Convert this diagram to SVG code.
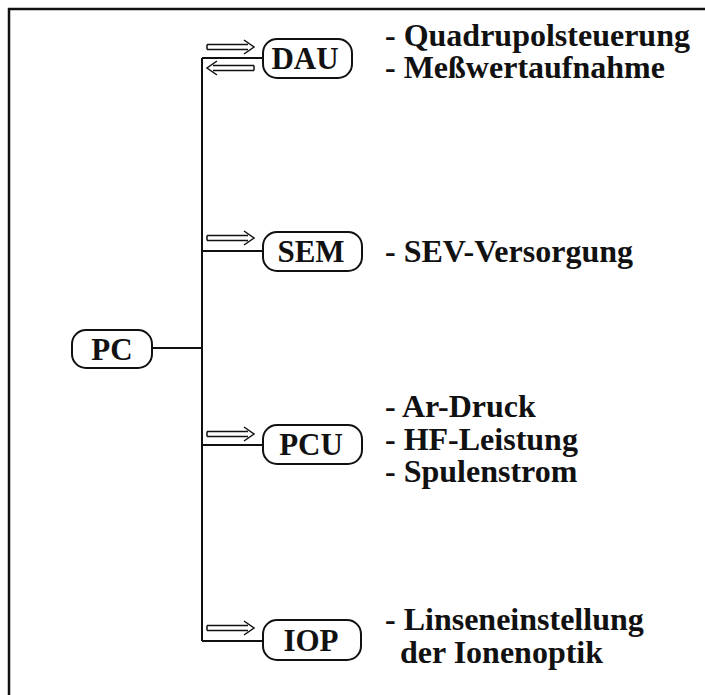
<svg xmlns="http://www.w3.org/2000/svg" width="705" height="695" viewBox="0 0 705 695">
  <style>
    .frame { fill: none; stroke: #111; stroke-width: 2.5; }
    .box { fill: #fff; stroke: #111; stroke-width: 2; }
    .wire { fill: none; stroke: #111; stroke-width: 2; }
    .node-label { font-family: "Liberation Serif", "Times New Roman", serif; font-weight: bold; font-size: 31px; fill: #111; text-anchor: middle; }
    .note { font-family: "Liberation Serif", "Times New Roman", serif; font-weight: bold; font-size: 32px; fill: #111; }
    .dbl { fill: none; stroke: #111; stroke-width: 1.5; stroke-linejoin: miter; }
  </style>
  <defs>
    <!-- hollow double-line arrow pointing right, tip at x=47 -->
    <path id="dblArrow" class="dbl" d="M0,-2.5 H41 M0,2.5 H41 M0,-2.5 V2.5 M37,-7 L47,0 L37,7"/>
  </defs>

  <rect width="705" height="695" fill="#fff"/>

  <!-- outer frame (left and top edges) -->
  <path class="frame" d="M9,695 V9 H705"/>

  <!-- connectors -->
  <g id="connectors">
    <path class="wire" d="M202,58 V641"/>
    <path class="wire" d="M152,348 H202"/>
    <path class="wire" d="M202,58 H263"/>
    <path class="wire" d="M202,251 H263"/>
    <path class="wire" d="M202,445 H263"/>
    <path class="wire" d="M202,641 H263"/>
    <use href="#dblArrow" transform="translate(207,47)"/>
    <use href="#dblArrow" transform="translate(254,68) scale(-1,1)"/>
    <use href="#dblArrow" transform="translate(207,238)"/>
    <use href="#dblArrow" transform="translate(207,434)"/>
    <use href="#dblArrow" transform="translate(207,628)"/>
  </g>

  <g id="pc">
    <rect class="box" x="72" y="330" width="80" height="38" rx="14"/>
    <text class="node-label" x="112" y="360">PC</text>
  </g>

  <g id="dau">
    <rect class="box" x="263" y="39" width="89" height="39" rx="14"/>
    <text class="node-label" x="305" y="69">DAU</text>
  </g>

  <g id="sem">
    <rect class="box" x="263" y="232" width="99" height="39" rx="14"/>
    <text class="node-label" x="311" y="262">SEM</text>
  </g>

  <g id="pcu">
    <rect class="box" x="263" y="425" width="99" height="39" rx="14"/>
    <text class="node-label" x="311" y="455">PCU</text>
  </g>

  <g id="iop">
    <rect class="box" x="263" y="620" width="98" height="40" rx="14"/>
    <text class="node-label" x="311" y="651">IOP</text>
  </g>

  <!-- descriptions -->
  <g id="dau-notes">
    <text class="note" x="385" y="46">- Quadrupolsteuerung</text>
    <text class="note" x="385" y="78">- Meßwertaufnahme</text>
  </g>
  <g id="sem-notes">
    <text class="note" x="385" y="262">- SEV-Versorgung</text>
  </g>
  <g id="pcu-notes">
    <text class="note" x="385" y="417">- Ar-Druck</text>
    <text class="note" x="385" y="450">- HF-Leistung</text>
    <text class="note" x="385" y="482">- Spulenstrom</text>
  </g>
  <g id="iop-notes">
    <text class="note" x="385" y="630">- Linseneinstellung</text>
    <text class="note" x="400" y="663">der Ionenoptik</text>
  </g>
</svg>
